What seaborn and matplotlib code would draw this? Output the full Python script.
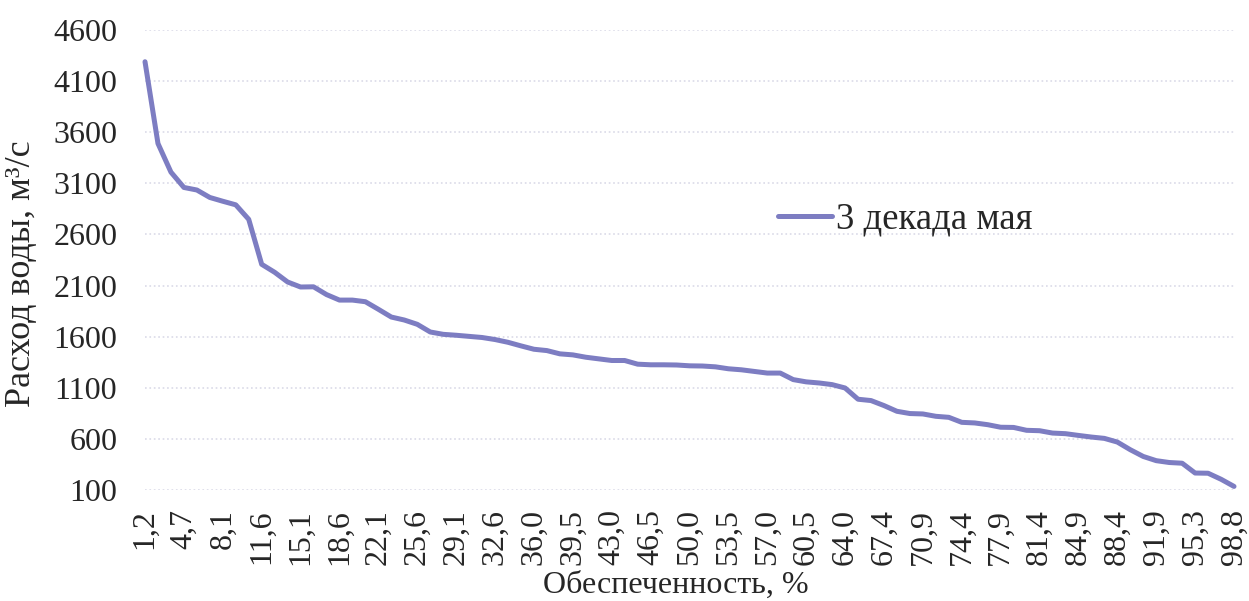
import pandas as pd
import matplotlib
matplotlib.use('Agg')
import matplotlib.pyplot as plt
import seaborn as sns

# Обеспеченность, % (85 лет наблюдений)
obespechennost = [
    1.2, 2.3, 3.5, 4.7, 5.8, 7.0, 8.1, 9.3, 10.5, 11.6, 12.8, 14.0, 15.1, 16.3, 17.4,
    18.6, 19.8, 20.9, 22.1, 23.3, 24.4, 25.6, 26.7, 27.9, 29.1, 30.2, 31.4, 32.6, 33.7,
    34.9, 36.0, 37.2, 38.4, 39.5, 40.7, 41.9, 43.0, 44.2, 45.3, 46.5, 47.7, 48.8, 50.0,
    51.2, 52.3, 53.5, 54.7, 55.8, 57.0, 58.1, 59.3, 60.5, 61.6, 62.8, 64.0, 65.1, 66.3,
    67.4, 68.6, 69.8, 70.9, 72.1, 73.3, 74.4, 75.6, 76.7, 77.9, 79.1, 80.2, 81.4, 82.6,
    83.7, 84.9, 86.0, 87.2, 88.4, 89.5, 90.7, 91.9, 93.0, 94.2, 95.3, 96.5, 97.7, 98.8,
]

# Расход воды, м3/с — 3 декада мая
rashod = [
    4290, 3490, 3210, 3060, 3035, 2962, 2925, 2890, 2748, 2308, 2230, 2135, 2086, 2088,
    2012, 1958, 1958, 1942, 1868, 1792, 1763, 1721, 1646, 1623, 1614, 1603, 1592, 1572,
    1545, 1510, 1477, 1464, 1432, 1422, 1399, 1383, 1367, 1367, 1331, 1325, 1325, 1323,
    1315, 1313, 1305, 1286, 1276, 1260, 1244, 1244, 1180, 1158, 1147, 1131, 1098, 988,
    975, 926, 870, 848, 844, 821, 811, 762, 756, 739, 714, 712, 684, 680, 657, 651, 634,
    618, 605, 569, 494, 428, 387, 369, 362, 266, 264, 205, 135,
]

y_ticks = [100, 600, 1100, 1600, 2100, 2600, 3100, 3600, 4100, 4600]

df = pd.DataFrame({'pos': range(len(rashod)), 'Обеспеченность': obespechennost, 'Расход': rashod})

sns.set_style('white')
plt.rcParams['font.family'] = ['Liberation Serif', 'DejaVu Serif']
plt.rcParams['text.color'] = '#262626'

fig = plt.figure(figsize=(12.49, 6.01), dpi=100)
ax = fig.add_axes([0.1161, 0.1847, 0.8719, 0.7653])

sns.lineplot(data=df, x='pos', y='Расход', ax=ax, color='#7D7DC2', linewidth=3.6,
             label='3 декада мая', clip_on=False)

ax.set_xlim(0, len(rashod) - 1)
ax.set_ylim(100, 4600)
ax.set_yticks(y_ticks)
ax.set_yticklabels([str(v) for v in y_ticks])

# подписи оси X — каждая третья категория
tick_pos = list(range(0, len(obespechennost), 3))
ax.set_xticks(tick_pos)
ax.set_xticklabels([f'{obespechennost[i]:.1f}'.replace('.', ',') for i in tick_pos], rotation=90)

ax.tick_params(axis='x', length=0, pad=14, labelsize=23, colors='#262626')
ax.tick_params(axis='y', length=0, pad=20, labelsize=23, colors='#262626')

ax.grid(axis='y', color='#dadae8', linestyle=':', linewidth=1.2)
ax.grid(axis='x', visible=False)
for s in ax.spines.values():
    s.set_visible(False)

ax.set_xlabel('Обеспеченность, %', fontsize=23)
ax.xaxis.set_label_coords(0.4876, -0.176)
ax.set_ylabel('Расход воды, м³/с', fontsize=26)
ax.yaxis.set_label_coords(-0.098, 0.47)

ax.legend(loc='center left', bbox_to_anchor=(0.551, 0.588), frameon=False, fontsize=26.5,
          handlelength=1.47, handletextpad=0.1)

fig.savefig('out.png', dpi=100)
